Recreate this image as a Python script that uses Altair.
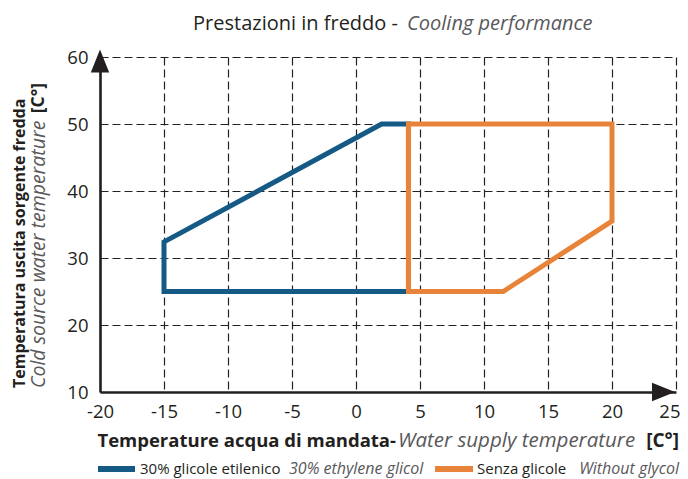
import altair as alt
import pandas as pd

# ---- data ----
x_domain = [-20, 25]
y_domain = [10, 60]
x_ticks = [-20, -15, -10, -5, 0, 5, 10, 15, 20, 25]
y_ticks = [10, 20, 30, 40, 50, 60]

glycol_x = [-15, -15, 2, 4.1, 4.1, -15]
glycol_y = [25, 32.4, 50, 50, 25, 25]
water_x = [4.1, 4.1, 20, 20, 11.5, 4.1]
water_y = [25, 50, 50, 35.5, 25, 25]

series_names = ["30% glicole etilenico", "Senza glicole"]
series_names_en = ["30% ethylene glicol", "Without glycol"]
series_colors = ["#145a85", "#e8843a"]

title_it = "Prestazioni in freddo -"
title_en = "Cooling performance"
xtitle_it = "Temperature acqua di mandata-"
xtitle_en = "Water supply temperature"
ytitle_it = "Temperatura uscita sorgente fredda"
ytitle_en = "Cold source water temperature"
unit = "[C°]"

FONT = "Open Sans"
DARK = "#231f20"
GREY = "#58585a"

rows = []
for name, xs, ys in [(series_names[0], glycol_x, glycol_y), (series_names[1], water_x, water_y)]:
    for i, (a, b) in enumerate(zip(xs, ys)):
        rows.append({"series": name, "x": a, "y": b, "order": i})
df = pd.DataFrame(rows)

xscale = alt.Scale(domain=x_domain, nice=False, zero=False)
yscale = alt.Scale(domain=y_domain, nice=False, zero=False)

axis_common = dict(
    title=None, grid=True, gridDash=[8, 4], gridColor="#222222", gridWidth=1.2,
    domainColor=DARK, domainWidth=2.6, ticks=False, labelFont=FONT,
    labelFontSize=18.5, labelColor=DARK, labelFlush=False, labelOverlap=False,
    labelExpr="toString(datum.value)",
)

base = alt.Chart(df)

polys = []
for name, col in zip(series_names, series_colors):
    polys.append(
        base.transform_filter(alt.datum.series == name)
        .mark_line(strokeWidth=5, color=col, strokeJoin="miter", strokeCap="square")
        .encode(
            x=alt.X("x:Q", scale=xscale, axis=alt.Axis(
                values=x_ticks, labelPadding=10,
                labelAlign=alt.ConditionalAxisLabelAlign(
                    condition={"test": f"datum.value == {x_domain[1]}", "value": "right"},
                    value="center"),
                labelOffset=alt.ConditionalAxisNumber(
                    condition={"test": f"datum.value == {x_domain[1]}", "value": 4},
                    value=0),
                **axis_common)),
            y=alt.Y("y:Q", scale=yscale, axis=alt.Axis(values=y_ticks, labelPadding=12, **axis_common)),
            order="order:Q",
        )
    )

# arrow heads at the end of each axis
arrow_y = alt.Chart(pd.DataFrame({"x": [x_domain[0]], "y": [y_domain[1]]})).mark_point(
    shape="M0,-1L0.8,1L-0.8,1Z", size=529, filled=True, opacity=1, color=DARK, yOffset=4
).encode(x=alt.X("x:Q", scale=xscale), y=alt.Y("y:Q", scale=yscale))
arrow_x = alt.Chart(pd.DataFrame({"x": [x_domain[1]], "y": [y_domain[0]]})).mark_point(
    shape="M1,0L-1,-0.8L-1,0.8Z", size=529, filled=True, opacity=1, color=DARK, xOffset=-12.5
).encode(x=alt.X("x:Q", scale=xscale), y=alt.Y("y:Q", scale=yscale))


def txt(s, x, y, size, color=DARK, weight="normal", style="normal", align="left", angle=0, baseline="alphabetic"):
    kw = dict(text=s, font=FONT, fontSize=size, color=color, fontWeight=weight,
              fontStyle=style, align=align, baseline=baseline)
    if angle:
        kw["angle"] = angle
    return alt.Chart(pd.DataFrame({"k": [0]})).mark_text(**kw).encode(
        x=alt.value(x), y=alt.value(y)
    )


texts = [
    # title
    txt(title_it, 298, -27.5, 20, align="right"),
    txt(title_en, 307, -27.5, 20, color=GREY, style="italic"),
    # x title
    txt(xtitle_it, 296, 390, 18.5, weight="bold", align="right"),
    txt(xtitle_en, 298, 390, 20.5, color=GREY, style="italic"),
    txt(unit, 579, 390, 19, weight="bold", align="right"),
    # y title
    txt(ytitle_it, -80, 331, 16, weight="bold", angle=270, baseline="middle"),
    txt(ytitle_en, -61, 331, 19.5, color=GREY, style="italic", angle=270, baseline="middle"),
    txt(unit, -61, 26, 17.5, weight="bold", angle=270, baseline="middle", align="right"),
    # legend text
    txt(series_names[0], 40, 417, 15),
    txt(series_names_en[0], 189, 417, 16, color=GREY, style="italic"),
    txt(series_names[1], 377, 417, 15),
    txt(series_names_en[1], 579, 417, 16, color=GREY, style="italic", align="right"),
]

swatches = [
    alt.Chart(pd.DataFrame({"k": [0]})).mark_rule(strokeWidth=6, color=series_colors[0]).encode(
        x=alt.value(-2), x2=alt.value(35), y=alt.value(412)
    ),
    alt.Chart(pd.DataFrame({"k": [0]})).mark_rule(strokeWidth=6, color=series_colors[1]).encode(
        x=alt.value(335), x2=alt.value(373), y=alt.value(412)
    ),
]

chart = alt.layer(*polys, arrow_y, arrow_x, *texts, *swatches).properties(
    width=576, height=335,
    autosize=alt.AutoSizeParams(type="none"),
    padding={"left": 92, "top": 49, "right": 4, "bottom": 92},
).configure_view(stroke=None)

chart.save("out.html", embed_options={"renderer": "svg", "actions": False})
